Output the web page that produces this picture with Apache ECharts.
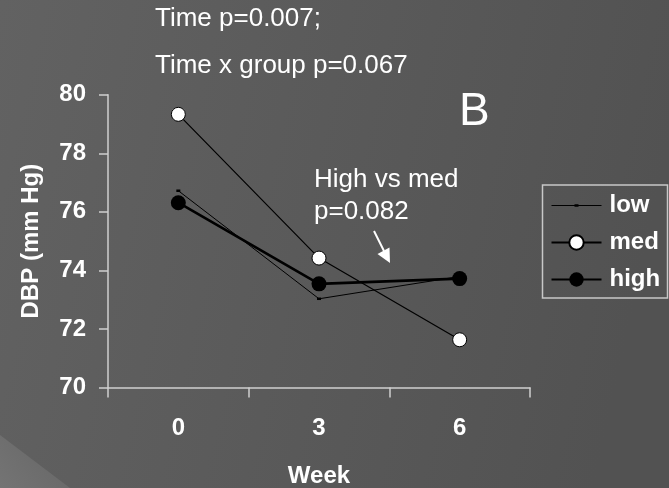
<!DOCTYPE html>
<html>
<head>
<meta charset="utf-8">
<script src="https://cdn.jsdelivr.net/npm/echarts@6/dist/echarts.min.js"></script>
<style>
html,body{margin:0;padding:0;background:#565656;}
#c{width:669px;height:488px;}
</style>
</head>
<body>
<div id="c"></div>
<script>
var weeks = ['0', '3', '6'];
var lowValues = [76.72, 73.03, 73.79];
var medValues = [79.33, 74.42, 71.63];
var highValues = [76.31, 73.54, 73.72];
var yTicks = {min: 70, max: 80, interval: 2};

var FONT = '"Liberation Sans", Arial, sans-serif';
var chart = echarts.init(document.getElementById('c'), null, {renderer: 'canvas'});

var axisColor = '#cfcfcf';

var option = {
  animation: false,
  backgroundColor: {
    type: 'linear', x: 0, y: 0, x2: 1, y2: 0.3,
    colorStops: [
      {offset: 0, color: '#626262'},
      {offset: 0.5, color: '#5a5a5a'},
      {offset: 1, color: '#525252'}
    ]
  },
  grid: {left: 108, right: 139, top: 94.7, bottom: 100.5, containLabel: false, outerBoundsMode: 'none'},
  xAxis: {
    type: 'category',
    data: weeks,
    boundaryGap: true,
    name: 'Week',
    nameLocation: 'middle',
    nameGap: 77,
    nameTextStyle: {color: '#ffffff', fontSize: 24, fontWeight: 'bold', fontFamily: FONT},
    axisLine: {lineStyle: {color: axisColor, width: 1.5}},
    axisTick: {show: true, inside: false, length: 10, alignWithLabel: false, lineStyle: {color: axisColor, width: 1.5}},
    axisLabel: {color: '#ffffff', fontSize: 24, fontWeight: 'bold', fontFamily: FONT, margin: 29},
    splitLine: {show: false}
  },
  yAxis: {
    type: 'value',
    min: yTicks.min, max: yTicks.max, interval: yTicks.interval,
    name: 'DBP (mm Hg)',
    nameLocation: 'middle',
    nameGap: 65,
    nameTextStyle: {color: '#ffffff', fontSize: 24, fontWeight: 'bold', fontFamily: FONT},
    axisLine: {show: true, lineStyle: {color: axisColor, width: 1.5}},
    axisTick: {show: true, inside: false, length: 9, lineStyle: {color: axisColor, width: 1.5}},
    axisLabel: {color: '#ffffff', fontSize: 24, fontWeight: 'bold', fontFamily: FONT, margin: 22},
    splitLine: {show: false}
  },
  legend: {
    orient: 'vertical',
    left: 550.5, top: 193.5,
    padding: 0,
    itemWidth: 50, itemHeight: 18, itemGap: 13,
    selectedMode: false,
    textStyle: {color: '#ffffff', fontSize: 24, fontWeight: 'bold', fontFamily: FONT, lineHeight: 24, padding: [0, 0, 0, 3]},
    data: [
      {name: 'low', icon: 'path://M0,1.2h50v1.1h-50z M23,0.6h4v2.4h-4z', symbolKeepAspect: true, itemStyle: {color: '#000', borderWidth: 0}},
      {name: 'med'},
      {name: 'high'}
    ]
  },
  series: [
    {
      name: 'low', type: 'line', data: lowValues,
      symbol: 'rect', symbolSize: [4, 2.5],
      lineStyle: {color: '#000', width: 1},
      itemStyle: {color: '#000'},
      z: 2
    },
    {
      name: 'med', type: 'line', data: medValues,
      symbol: 'circle', symbolSize: 14,
      lineStyle: {color: '#000', width: 1.2},
      itemStyle: {color: '#ffffff', borderColor: '#000', borderWidth: 1},
      z: 3
    },
    {
      name: 'high', type: 'line', data: highValues,
      symbol: 'circle', symbolSize: 15,
      lineStyle: {color: '#000', width: 2.6},
      itemStyle: {color: '#000', borderColor: '#000', borderWidth: 0},
      z: 4
    }
  ],
  graphic: [
    {type: 'polygon', silent: true, z: -10, shape: {points: [[0, 435], [70, 488], [0, 488]]},
      style: {fill: {type: 'linear', x: 0, y: 1, x2: 1, y2: 0, colorStops: [{offset: 0, color: '#747474'}, {offset: 1, color: '#656565'}]}}},
    {type: 'rect', silent: true, shape: {x: 542.5, y: 185, width: 125, height: 113}, style: {fill: null, stroke: '#c8c8c8', lineWidth: 1.5}},
    {type: 'text', left: 155, top: 6, style: {text: 'Time p=0.007;', fill: '#ffffff', font: '26px ' + FONT}},
    {type: 'text', left: 155, top: 53, style: {text: 'Time x group p=0.067', fill: '#ffffff', font: '26px ' + FONT}},
    {type: 'text', left: 459, top: 89, style: {text: 'B', fill: '#ffffff', font: '46px ' + FONT}},
    {type: 'text', left: 314, top: 167, style: {text: 'High vs med', fill: '#ffffff', font: '26px ' + FONT}},
    {type: 'text', left: 314, top: 199, style: {text: 'p=0.082', fill: '#ffffff', font: '26px ' + FONT}},
    {type: 'line', silent: true, shape: {x1: 374, y1: 231, x2: 384, y2: 251}, style: {stroke: '#ffffff', lineWidth: 2}},
    {type: 'polygon', silent: true, shape: {points: [[390, 263], [377.5, 254], [389.5, 247.5]]}, style: {fill: '#ffffff'}}
  ]
};
chart.setOption(option);
</script>
</body>
</html>
